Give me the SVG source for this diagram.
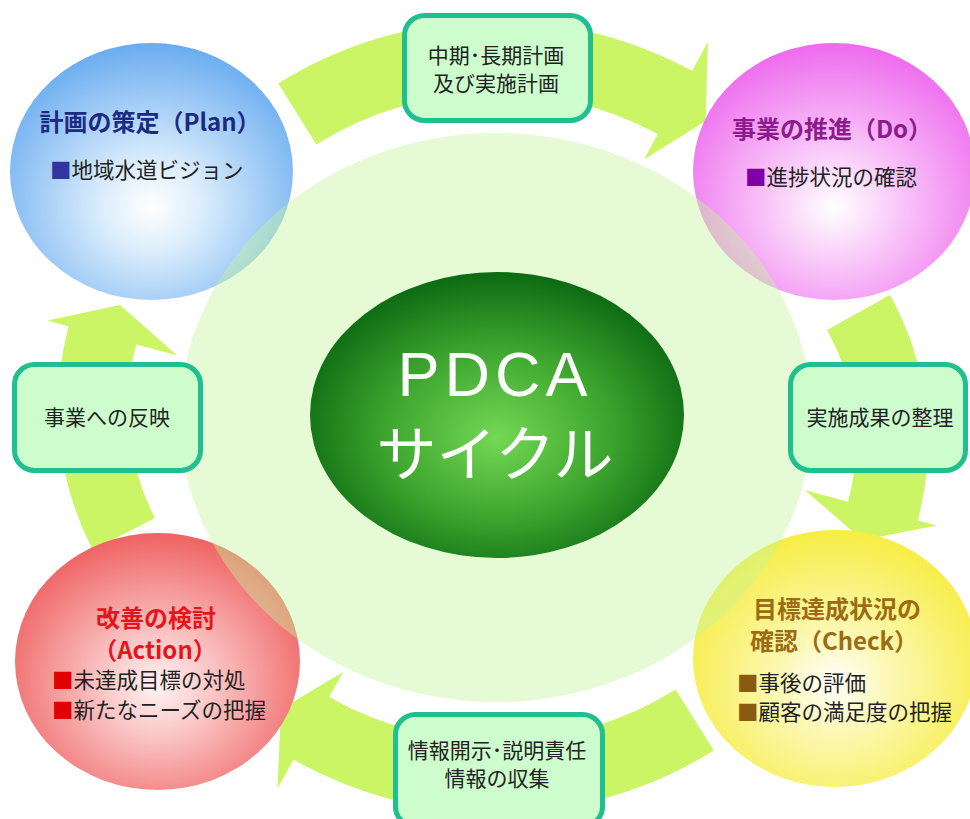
<svg xmlns="http://www.w3.org/2000/svg" width="970" height="819" viewBox="0 0 970 819">
<defs>
<radialGradient id="gBlue" cx="0.5" cy="0.62" r="0.62" fx="0.5" fy="0.64">
<stop offset="0" stop-color="#ffffff"/><stop offset="0.3" stop-color="#d9ecfc"/><stop offset="1" stop-color="#6aacf0"/>
</radialGradient>
<radialGradient id="gPink" cx="0.5" cy="0.62" r="0.62" fx="0.5" fy="0.64">
<stop offset="0" stop-color="#ffffff"/><stop offset="0.3" stop-color="#fad2fa"/><stop offset="1" stop-color="#ee6aee"/>
</radialGradient>
<radialGradient id="gRed" cx="0.5" cy="0.58" r="0.62" fx="0.5" fy="0.6">
<stop offset="0" stop-color="#fff2f2"/><stop offset="0.3" stop-color="#fbc8c8"/><stop offset="1" stop-color="#ee5858"/>
</radialGradient>
<radialGradient id="gYellow" cx="0.5" cy="0.58" r="0.62" fx="0.5" fy="0.6">
<stop offset="0" stop-color="#ffffff"/><stop offset="0.3" stop-color="#fcf8b8"/><stop offset="1" stop-color="#f6ec36"/>
</radialGradient>
<radialGradient id="gCenter" cx="0.5" cy="0.55" r="0.55" fx="0.5" fy="0.58">
<stop offset="0" stop-color="#74d854"/><stop offset="0.55" stop-color="#3ca42e"/><stop offset="1" stop-color="#0c6a12"/>
</radialGradient>
</defs>
<style>
.arrow { fill: #ccf566; }
.box rect { fill: #cdfccd; stroke: #1fbf8f; stroke-width: 5; }
.box text { font-family: "Noto Sans CJK JP", sans-serif; font-size: 21px; fill: #222222; text-anchor: middle; }
.title { font-family: "Noto Sans CJK JP", sans-serif; font-size: 24px; font-weight: bold; text-anchor: middle; }
.item { font-family: "Noto Sans CJK JP", sans-serif; font-size: 21.5px; fill: #222222; }
</style>
<rect width="970" height="819" fill="#ffffff"/>

<g id="connectors">
<path class="arrow" d="M278.2,83.5 A411,411 0 0 1 692.1,70.8 L707.9,41.8 L705.7,121.1 L643.9,159.6 L657.8,134.1 A339,339 0 0 0 316.4,144.5 Z"/>
<path class="arrow" d="M890.0,295.1 A303,303 0 0 1 917.7,520.4 L937.0,525.6 L862.6,539.9 L804.7,490.1 L848.1,501.8 A231,231 0 0 0 827.0,330.0 Z"/>
<path class="arrow" d="M713.8,750.5 A411,411 0 0 1 293.6,759.7 L277.4,788.5 L280.9,709.2 L343.4,671.8 L329.1,697.1 A339,339 0 0 0 675.6,689.5 Z"/>
<path class="arrow" d="M92.8,550.1 A312,312 0 0 1 68.6,326.3 L47.4,320.6 L120.0,305.0 L176.8,355.2 L136.2,344.4 A242,242 0 0 0 155.0,518.0 Z"/>
</g>

<g id="plan">
<ellipse cx="151.5" cy="171.5" rx="141.5" ry="128.5" fill="url(#gBlue)"/>
<text class="title" x="150" y="131" fill="#1d2a82">計画の策定（Plan）</text>
<text class="item" x="50" y="178"><tspan fill="#34349e">■</tspan>地域水道ビジョン</text>
</g>

<g id="do">
<ellipse cx="834" cy="171.5" rx="141" ry="128.5" fill="url(#gPink)"/>
<text class="title" x="832" y="138" fill="#8c1c8c">事業の推進（Do）</text>
<text class="item" x="745" y="185"><tspan fill="#8000a8">■</tspan>進捗状況の確認</text>
</g>

<g id="check">
<ellipse cx="835" cy="658.5" rx="142" ry="128.5" fill="url(#gYellow)"/>
<text class="title" x="837" y="618" fill="#9c6b12">目標達成状況の</text>
<text class="title" x="834" y="650" fill="#9c6b12">確認（Check）</text>
<text class="item" x="737" y="691"><tspan fill="#8a5a10">■</tspan>事後の評価</text>
<text class="item" x="737" y="720"><tspan fill="#8a5a10">■</tspan>顧客の満足度の把握</text>
</g>

<g id="action">
<ellipse cx="157.5" cy="661.5" rx="142.5" ry="128.5" fill="url(#gRed)"/>
<text class="title" x="156" y="627" fill="#e3171b">改善の検討</text>
<text class="title" x="155" y="659" fill="#e3171b">（Action）</text>
<text class="item" x="52" y="688"><tspan fill="#e00000">■</tspan>未達成目標の対処</text>
<text class="item" x="52" y="718"><tspan fill="#e00000">■</tspan>新たなニーズの把握</text>
</g>

<g id="cycle-bg">
<ellipse cx="496" cy="417.5" rx="316" ry="284.5" fill="#c4f59a" fill-opacity="0.42"/>
</g>

<g id="pdca">
<ellipse cx="497" cy="415" rx="187" ry="143" fill="url(#gCenter)"/>
<text x="495" y="396" font-family="Liberation Sans, Arial, sans-serif" font-size="63" fill="#ffffff" text-anchor="middle" letter-spacing="5">PDCA</text>
<text x="495" y="476" font-family="Noto Sans CJK JP, sans-serif" font-size="60" fill="#ffffff" text-anchor="middle">サイクル</text>
</g>

<g id="label-top" class="box">
<rect x="404.5" y="15.5" width="186" height="105" rx="20"/>
<text x="496" y="63">中期･長期計画</text>
<text x="496" y="91">及び実施計画</text>
</g>

<g id="label-right" class="box">
<rect x="790.5" y="364.5" width="175" height="106" rx="20"/>
<text x="880" y="425">実施成果の整理</text>
</g>

<g id="label-bottom" class="box">
<rect x="395.5" y="714.5" width="207" height="112" rx="20"/>
<text x="497" y="758">情報開示･説明責任</text>
<text x="497" y="786">情報の収集</text>
</g>

<g id="label-left" class="box">
<rect x="14.5" y="364.5" width="186" height="106" rx="20"/>
<text x="107" y="425">事業への反映</text>
</g>
</svg>
